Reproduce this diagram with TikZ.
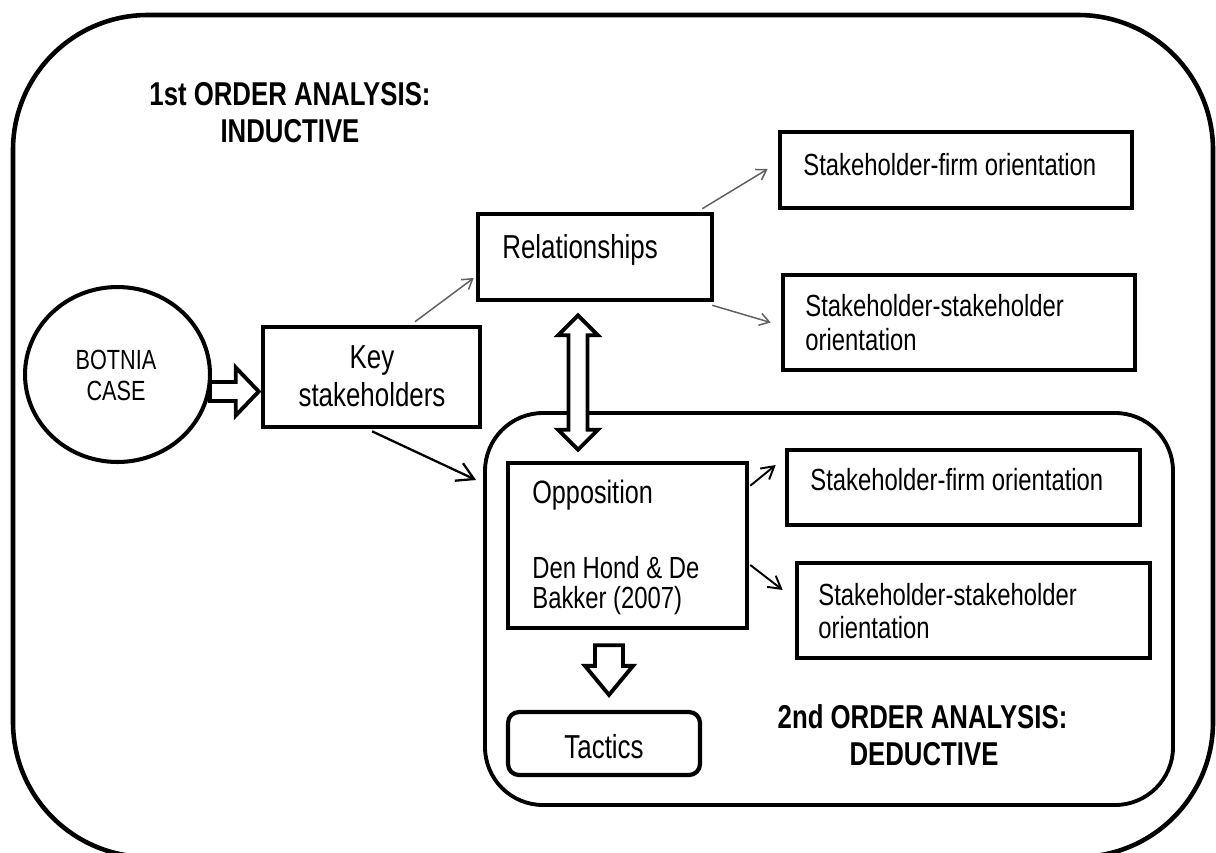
\documentclass[tikz,border=0pt]{standalone}
\usepackage{fontspec}
\setmainfont{Liberation Sans}[FakeStretch=0.78]
\usetikzlibrary{arrows.meta,calc,fit,shapes.geometric}
\begin{document}
\begin{tikzpicture}[x=0.02cm,y=-0.02cm,
  box/.style={draw, line width=2.6pt, inner sep=0pt, rectangle},
  lt/.style={anchor=base west, inner sep=0pt},
  ct/.style={anchor=base, inner sep=0pt},
  fA/.style={font=\fontsize{17.4}{19.3}\selectfont},
  fB/.style={font=\fontsize{18.9}{21.5}\selectfont},
  fC/.style={font=\fontsize{15.8}{17.6}\selectfont},
  fH/.style={font=\fontsize{18.8}{21}\selectfont\bfseries},
  grayarrow/.style={draw=black!62, line width=0.85pt, -{Straight Barb[length=5.5pt,width=7pt]}},
  blackarrow/.style={draw=black, line width=1.3pt, -{Straight Barb[length=9.5pt,width=11pt]}},
  smallarrow/.style={draw=black, line width=1.1pt, -{Straight Barb[length=7pt,width=8pt]}},
  blockarrow/.style={draw=black, line width=2.2pt, fill=white, line join=miter}]
\useasboundingbox (0,0) rectangle (1216,852);
\clip (0,0) rectangle (1216,852);

% frames
\node[draw, line width=2.6pt, inner sep=0pt, rounded corners=2.7cm, fit={(13,15)(1213,857)}] (outer) {};
\node[draw, line width=2.2pt, inner sep=0pt, rounded corners=1.16cm, fit={(485,413)(1173,805)}] (second) {};

% headings
\node[ct, fH] (h1a) at (290,105) {1st ORDER ANALYSIS:};
\node[ct, fH] (h1b) at (290,142) {INDUCTIVE};
\node[ct, fH] (h2a) at (922.5,728) {2nd ORDER ANALYSIS:};
\node[ct, fH] (h2b) at (924,765) {DEDUCTIVE};

% case
\node[draw, ellipse, line width=2.3pt, inner sep=0pt, minimum width=3.7cm, minimum height=3.5cm] (botnia) at (117.5,374.5) {};
\node[ct, fC] (botniaa) at (116,369) {BOTNIA};
\node[ct, fC] (botniab) at (116,400) {CASE};

% boxes
\node[box, fit={(263,327)(480,427)}] (key) {};
\node[ct, fB] (keya) at (372,368) {Key};
\node[ct, fB] (keyb) at (372,406) {stakeholders};
\node[box, fit={(478,214)(712,300)}] (rel) {};
\node[lt, fB] (relt) at (502,258) {Relationships};
\node[box, fit={(780,132)(1132,208)}] (sf1) {};
\node[lt, fA] (sf1t) at (803,175) {Stakeholder-firm orientation};
\node[box, fit={(783,275)(1135,370)}] (ss1) {};
\node[lt, fA] (ss1a) at (805,316) {Stakeholder-stakeholder};
\node[lt, fA] (ss1b) at (805,350) {orientation};

\node[box, fit={(508,463)(747,628)}] (opp) {};
\node[lt, font=\fontsize{18.4}{20}\selectfont] (oppt) at (532,503) {Opposition};
\node[lt, fA] (oppr1) at (532,578) {Den Hond \& De};
\node[lt, fA] (oppr2) at (532,608) {Bakker (2007)};
\node[box, fit={(787,450)(1140,525)}] (sf2) {};
\node[lt, fA] (sf2t) at (810,490) {Stakeholder-firm orientation};
\node[box, fit={(797,563)(1150,658)}] (ss2) {};
\node[lt, fA] (ss2a) at (818,605) {Stakeholder-stakeholder};
\node[lt, fA] (ss2b) at (818,638) {orientation};
\node[box, line width=2.4pt, rounded corners=0.22cm, fit={(508,712)(700,775)}] (tac) {};
\node[ct, fB] (tact) at (604,758) {Tactics};

% thin connectors
\draw[grayarrow] ($(key.north)+(43.5,-3)$) -- ($(rel.west)+(-2,21)$);
\draw[grayarrow] ($(rel.north east)+(-12,-3)$) -- ($(sf1.west)+(-10,-1)$);
\draw[grayarrow] ($(rel.south east)+(-2,3)$) -- ($(ss1.west)+(-10,0)$);
\draw[blackarrow] ($(key.south)+(0.5,2)$) -- ($(second.west)+(-7,-129)$);
\draw[smallarrow] ($(opp.north east)+(1,25)$) -- ($(sf2.west)+(-9,-22.5)$);
\draw[smallarrow] ($(opp.east)+(1,19.5)$) -- ($(ss2.west)+(-12,-20.5)$);

% block arrows
\coordinate (ba) at ($(botnia.east)+(-2,17)$);
\coordinate (bb) at ($(key.west)+(-2,14.5)$);
\draw[blockarrow] ($(ba)+(0,-9.5)$) -- ($(bb)+(-23,-9.5)$) -- ($(bb)+(-23,-24)$) -- (bb) -- ($(bb)+(-23,24)$) -- ($(bb)+(-23,9.5)$) -- ($(ba)+(0,9.5)$) -- cycle;

\coordinate (dt) at ($(rel.south)+(-17,13)$);
\coordinate (db) at ($(opp.north)+(-49.5,-11)$);
\draw[blockarrow] (dt) -- ($(dt)+(20,20)$) -- ($(dt)+(9.5,20)$) -- ($(db)+(9.5,-20)$) -- ($(db)+(20,-20)$) -- (db) -- ($(db)+(-20,-20)$) -- ($(db)+(-9.5,-20)$) -- ($(dt)+(-9.5,20)$) -- ($(dt)+(-20,20)$) -- cycle;

\coordinate (ds) at ($(opp.south)+(-18.5,15)$);
\coordinate (de) at ($(tac.north)+(5,-15)$);
\draw[blockarrow] ($(ds)+(-14,0)$) -- ($(ds)+(14,0)$) -- ($(de)+(14,-29)$) -- ($(de)+(24,-29)$) -- (de) -- ($(de)+(-24,-29)$) -- ($(de)+(-14,-29)$) -- cycle;
\end{tikzpicture}
\end{document}
